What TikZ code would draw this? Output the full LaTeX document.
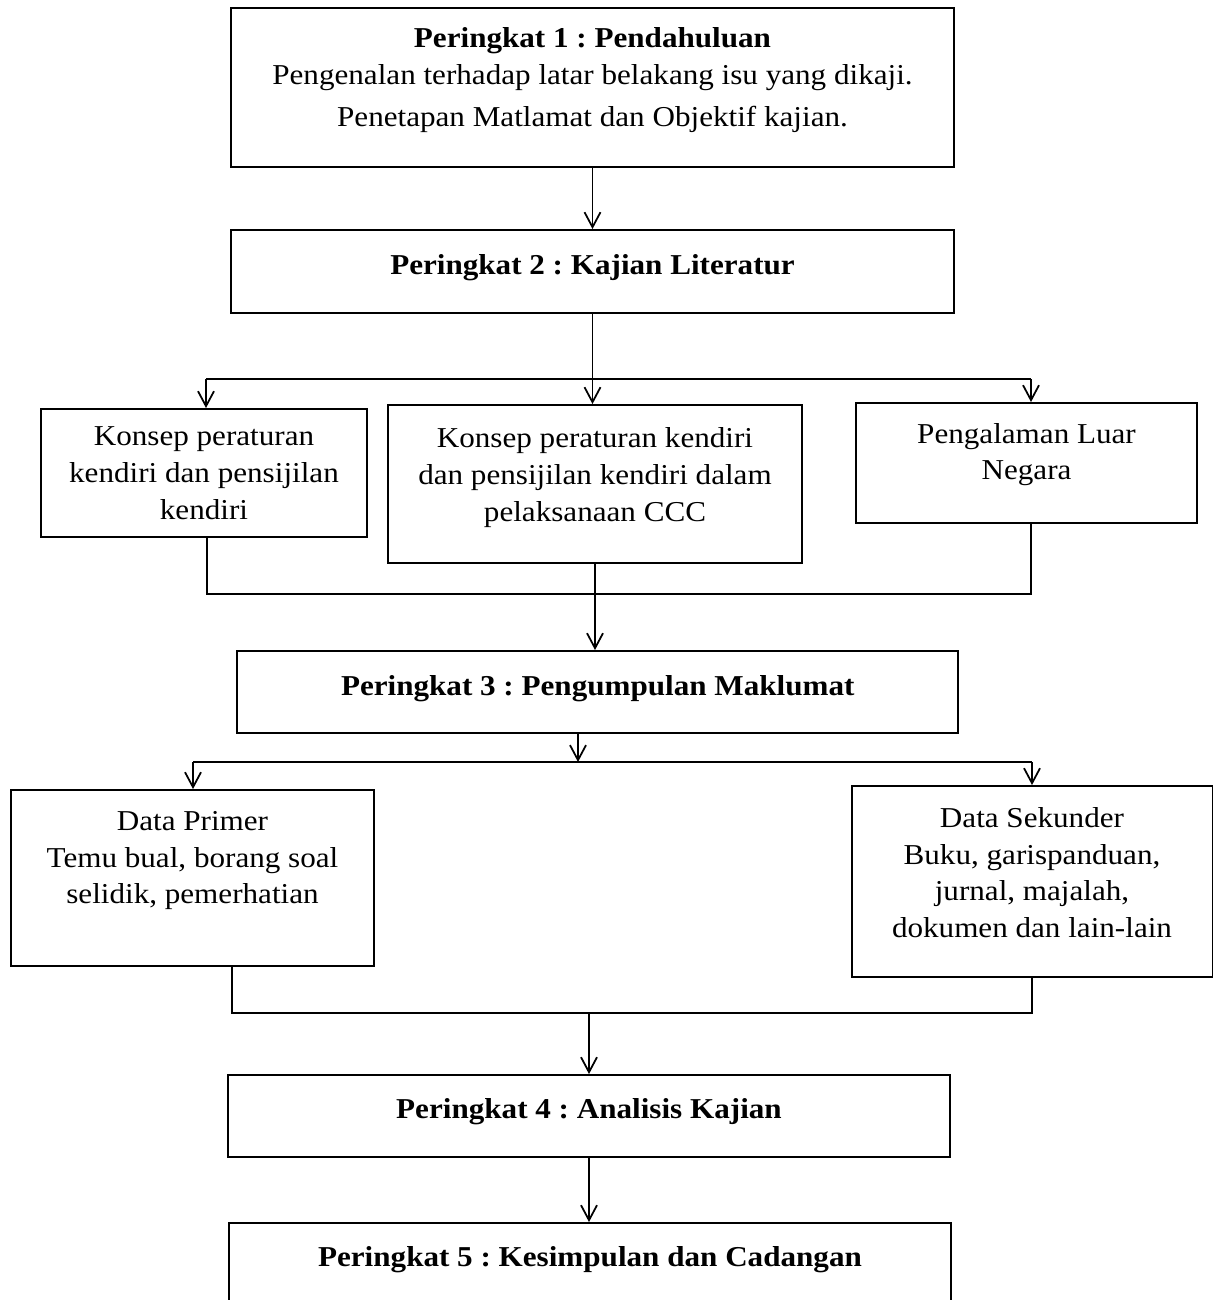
\documentclass[tikz,border=0pt]{standalone}
\usepackage{fontspec}
\setmainfont{Liberation Serif}[FakeStretch=1.08]
\usetikzlibrary{arrows.meta}
\frenchspacing
\begin{document}
\begin{tikzpicture}[x=0.02cm,y=0.02cm,>={Straight Barb[length=3mm,width=3.2mm]},
    box/.style={draw,line width=1.1pt,align=center,inner sep=2pt,font=\fontsize{16.4pt}{21pt}\selectfont},
    link/.style={line width=1pt}]
    \useasboundingbox (0,0) rectangle (1214,-1300);
    \node[box,minimum width=14.46cm,minimum height=3.18cm,text depth=.43cm] (p1) at (592.5,-87.5)
        {\textbf{Peringkat 1 : Pendahuluan}\\Pengenalan terhadap latar belakang isu yang dikaji.\\[2.7pt]Penetapan Matlamat dan Objektif kajian.};
    \node[box,minimum width=14.46cm,minimum height=1.66cm,text depth=.26cm] (p2) at (592.5,-271.5) {\textbf{Peringkat 2 : Kajian Literatur}};
    \node[box,minimum width=6.52cm,minimum height=2.56cm] (konsep) at (204,-473) {Konsep peraturan\\kendiri dan pensijilan\\kendiri};
    \node[box,minimum width=8.28cm,minimum height=3.16cm,text depth=.37cm] (ccc) at (595,-484) {Konsep peraturan kendiri\\dan pensijilan kendiri dalam\\pelaksanaan CCC};
    \node[box,minimum width=6.82cm,minimum height=2.4cm,text depth=.46cm] (luar) at (1026.5,-463) {Pengalaman Luar\\Negara};
    \node[box,minimum width=14.43cm,minimum height=1.64cm,text depth=.28cm] (p3) at (597.75,-692) {\textbf{Peringkat 3 : Pengumpulan Maklumat}};
    \node[box,minimum width=7.26cm,minimum height=3.52cm,text depth=.82cm] (primer) at (192.5,-878) {Data Primer\\Temu bual, borang soal\\selidik, pemerhatian};
    \node[box,minimum width=7.22cm,minimum height=3.82cm,text depth=.36cm] (sekunder) at (1032,-881.5) {Data Sekunder\\Buku, garispanduan,\\jurnal, majalah,\\dokumen dan lain-lain};
    \node[box,minimum width=14.44cm,minimum height=1.64cm,text depth=.32cm] (p4) at (589,-1116) {\textbf{Peringkat 4 : Analisis Kajian}};
    \node[box,minimum width=14.44cm,minimum height=1.64cm,text depth=.29cm] (p5) at (590,-1264) {\textbf{Peringkat 5 : Kesimpulan dan Cadangan}};
    % split and merge points
    \coordinate (a1) at (206,-379); \coordinate (a2) at (1031,-379);
    \coordinate (b1) at (207,-594); \coordinate (b2) at (1031,-594);
    \coordinate (c0) at (578,-762); \coordinate (c1) at (193,-762); \coordinate (c2) at (1032,-762);
    \coordinate (d1) at (232,-1013); \coordinate (d2) at (1032,-1013);
    \draw[link,->] (p1.south) -- (p2.north);
    \draw[link,->] (p2.south) -- (p2.south |- ccc.north);
    \draw[link] (a1) -- (a2);
    \draw[link] (konsep.south -| b1) -- (b1) -- (b2) -- (luar.south -| b2);
    \draw[link,->] (ccc.south) -- (ccc.south |- p3.north);
    \draw[link,->] (p3.south -| c0) -- (c0);
    \draw[link] (c1) -- (c2);
    \draw[link] (primer.south -| d1) -- (d1) -- (d2) -- (sekunder.south -| d2);
    \draw[link,->] (p4.north |- d1) -- (p4.north);
    \draw[link,->] (p4.south) -- (p4.south |- p5.north);
    \foreach \c/\n in {a1/konsep,a2/luar,c1/primer,c2/sekunder}
        \draw[link,->] (\c) -- (\c |- \n.north);
\end{tikzpicture}
\end{document}
